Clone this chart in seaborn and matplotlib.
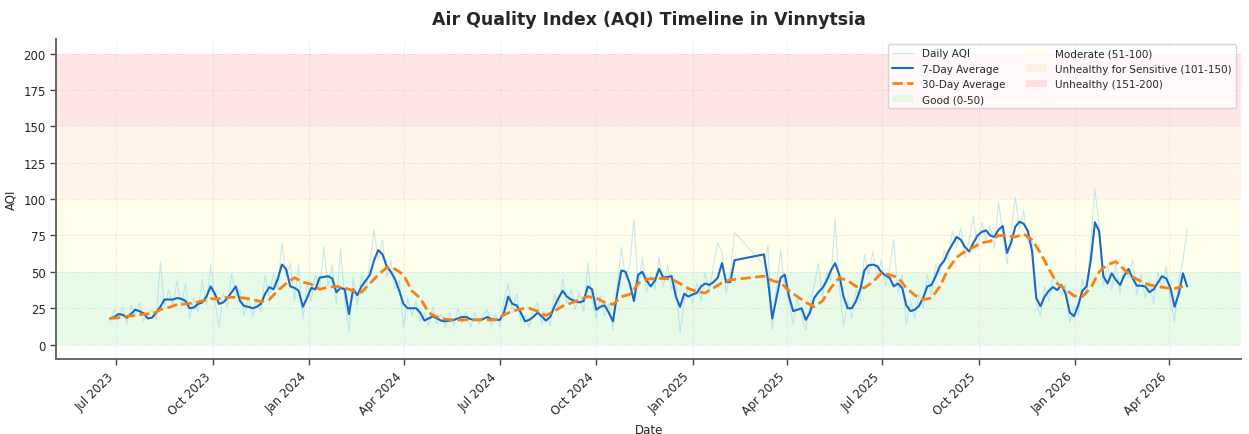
import pandas as pd
import matplotlib.pyplot as plt
import matplotlib.dates as mdates
import seaborn as sns

sns.set_theme(style='white')
plt.rcParams['font.family'] = 'DejaVu Sans'

# readings taken off the timeline: every 4 days for daily / 7-day values,
# every 8 days for the 30-day average. No data between gap_start and gap_end.
start_date = '2023-06-25'
gap_start = '2025-02-12'
gap_end = '2025-03-09'

daily_aqi = [
    15, 24, 17, 26, 14, 27, 20, 29, 16, 22,
    24, 17, 57, 25, 38, 27, 44, 26, 42, 18,
    32, 22, 45, 27, 55, 30, 12, 36, 26, 49,
    33, 38, 20, 33, 19, 31, 22, 48, 33, 49,
    38, 70, 47, 56, 30, 55, 18, 42, 30, 48,
    38, 67, 40, 55, 28, 66, 30, 9, 46, 27,
    48, 36, 56, 79, 58, 72, 46, 58, 38, 44,
    12, 32, 20, 30, 16, 22, 13, 26, 14, 21,
    12, 22, 13, 25, 15, 23, 12, 22, 14, 21,
    24, 13, 21, 12, 30, 42, 22, 35, 16, 20,
    12, 24, 29, 14, 22, 13, 35, 25, 45, 28,
    38, 24, 36, 22, 56, 30, 18, 34, 20, 28,
    10, 40, 67, 45, 55, 86, 38, 60, 36, 48,
    38, 60, 40, 55, 38, 42, 8, 30, 40, 28,
    42, 30, 50, 36, 55, 70, 64, 35, 50, 77,
    # gap
    55, 68, 10, 40, 65, 40, 30, 14, 32, 20,
    10, 28, 40, 56, 32, 50, 44, 87, 40, 13,
    30, 18, 38, 30, 62, 48, 64, 46, 58, 40,
    52, 72, 35, 48, 14, 30, 18, 35, 25, 48,
    34, 55, 48, 65, 58, 78, 68, 80, 60, 72,
    88, 66, 84, 72, 82, 66, 98, 76, 55, 78,
    101, 80, 92, 70, 72, 28, 20, 40, 30, 46,
    44, 34, 42, 15, 26, 20, 45, 34, 70, 107,
    82, 40, 55, 38, 56, 35, 55, 46, 58, 34,
    48, 32, 44, 28, 50, 38, 54, 30, 16, 44, 58, 79,
]

avg_7day = [
    18, 19, 21, 20.5, 18.5, 21, 24, 23, 21.5, 18,
    18.5, 22, 26, 31, 31, 31, 32, 31.5, 30, 25,
    25.5, 28, 29, 33, 40, 35, 28, 29, 32, 36,
    40, 30, 26.5, 26, 25, 26, 28, 35, 39.5, 38,
    45, 55, 52, 40, 39, 37, 26, 32, 39, 38,
    46, 46.5, 47, 45.5, 36, 39, 38, 21, 38, 34,
    40, 44, 48, 58, 65, 62, 54, 50, 45, 37,
    28, 25, 25, 25, 22, 16.5, 18, 19.5, 18, 16.5,
    16, 16.5, 17, 18, 19, 19, 17.5, 17, 17, 17.5,
    19, 17.5, 17, 17, 22, 33, 28, 27, 22, 16,
    17, 19, 22, 19.5, 16.5, 19, 26, 32, 37, 33,
    31, 30, 29, 30, 40, 38, 24, 26, 27, 22,
    16, 35, 51, 50, 42, 30, 48, 50, 44, 40,
    44, 52, 46, 46.5, 47, 33, 26, 35, 33, 34.5,
    35.5, 40, 42, 41, 43, 46, 56, 43, 43, 58,
    # gap
    62, 44, 18, 32, 46, 48, 33, 23, 24, 25,
    17, 22, 32, 36, 39, 44, 51, 56, 48, 33,
    25, 25, 30, 38, 51, 54.5, 55, 54, 50, 47.5,
    46, 40, 42, 39, 27, 23, 24, 26.5, 32, 40,
    41, 47, 54, 57.5, 64, 69, 74, 72, 67, 64,
    70, 75, 77.5, 78.5, 75, 74, 79, 81.5, 63, 70,
    81, 84.5, 83, 78, 64, 32, 26.4, 33, 37, 39.5,
    37.5, 41, 35, 22, 19.5, 27, 37, 40, 58, 84,
    78, 47, 42, 49, 44.5, 41, 47.5, 52, 45.5, 40.5,
    40.5, 40, 36, 38, 42.5, 47, 45.5, 39, 26, 35, 49, 40,
]

avg_30day = [
    18, 18.5, 19.5, 20, 21, 21, 24, 25.5, 27.5, 28,
    28.6, 30, 31.5, 31.5, 32.5, 32.5, 32, 31, 29.5, 31,
    37, 42, 46, 43, 41.5, 38, 39.5, 40, 39, 37,
    36, 42, 48, 53, 52, 48, 37, 32, 22, 19,
    17.5, 17, 17, 17, 17, 17, 17, 20.5, 23, 24.5,
    25, 23, 20, 23, 26.5, 28.6, 31, 33, 32, 29,
    27.6, 33, 34.5, 42, 45, 45.5, 45.5, 45, 42, 38.5,
    36.5, 35.5, 39, 42.5, 44.5,
    # gap
    47, 44, 42.5, 37, 33, 29, 26, 30, 39, 46,
    44, 40, 39, 43, 49, 48, 46, 39, 34, 31,
    32, 40, 52, 60, 64, 67, 70, 71, 75, 75,
    74, 76, 72, 63, 52, 42, 38, 33.5, 33, 39,
    50, 55, 57, 51.5, 46.5, 43.5, 41, 40, 39, 38.5,
    40,
]

# AQI categories
cat_names = ['Good (0-50)', 'Moderate (51-100)',
             'Unhealthy for Sensitive (101-150)', 'Unhealthy (151-200)']
cat_limits = [0, 50, 100, 150, 200]
cat_colors = ['lightgreen', 'yellow', 'darkorange', 'red']
cat_alpha = [0.2, 0.08, 0.08, 0.1]


def dates_without_gap(periods, freq):
    d = pd.date_range(start_date, periods=periods, freq=freq)
    return d[~((d > gap_start) & (d < gap_end))]


df = pd.DataFrame({'date': dates_without_gap(258, '4D'),
                   'daily': daily_aqi, 'avg7': avg_7day})
df30 = pd.DataFrame({'date': dates_without_gap(129, '8D'), 'avg30': avg_30day})

fig, ax = plt.subplots(figsize=(12.49, 4.35), dpi=100)
fig.subplots_adjust(left=0.045, right=0.9936, top=0.908, bottom=0.172)

# background bands
band_handles = []
for i, name in enumerate(cat_names):
    h = ax.axhspan(cat_limits[i], cat_limits[i + 1], color=cat_colors[i],
                   alpha=cat_alpha[i], lw=0, label=name, zorder=0)
    band_handles.append(h)

sns.lineplot(data=df, x='date', y='daily', ax=ax, color='#87CEEB', alpha=0.45,
             lw=0.8, label='Daily AQI')
sns.lineplot(data=df, x='date', y='avg7', ax=ax, color='#1a68c6', lw=1.5,
             label='7-Day Average')
sns.lineplot(data=df30, x='date', y='avg30', ax=ax, color='#ff7f0e', lw=2,
             linestyle='--', label='30-Day Average')

line_handles = ax.get_lines()[-3:]
handles = list(line_handles) + band_handles
ax.legend(handles=handles, labels=[h.get_label() for h in handles],
          loc='upper right', ncol=2, fontsize=7.5, framealpha=0.8)

ax.set_ylim(-10, 210)
ax.set_yticks(range(0, 201, 25))
ax.xaxis.set_major_locator(mdates.MonthLocator(bymonth=[1, 4, 7, 10]))
ax.xaxis.set_major_formatter(mdates.DateFormatter('%b %Y'))
plt.setp(ax.get_xticklabels(), rotation=45, ha='right')
ax.tick_params(axis='both', labelsize=8.5, length=4, width=1, color='#444',
               bottom=True, left=True)

ax.grid(True, linestyle='--', alpha=0.35, lw=0.7)
sns.despine(ax=ax)
for s in ['left', 'bottom']:
    ax.spines[s].set_color('#666')
    ax.spines[s].set_linewidth(1.4)

ax.set_title('Air Quality Index (AQI) Timeline in Vinnytsia', fontsize=12.5,
             fontweight='bold', pad=11)
ax.set_xlabel('Date', fontsize=8.5)
ax.set_ylabel('AQI', fontsize=8.5)

plt.savefig('out.png', dpi=100)
